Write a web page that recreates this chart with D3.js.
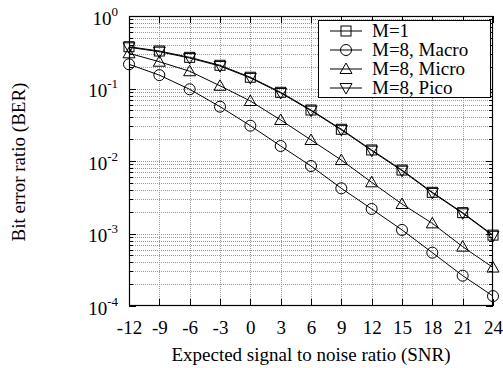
<!DOCTYPE html>
<html><head><meta charset="utf-8">
<script src="https://cdn.jsdelivr.net/npm/d3@7"></script>
<style>body{margin:0;background:#fff}svg{display:block;font-family:"Liberation Serif","Times New Roman",serif}</style>
</head><body><svg id="c" width="503" height="368"></svg>
<script>
const snr = [-12,-9,-6,-3,0,3,6,9,12,15,18,21,24];
const berM1    = [0.377,0.329,0.269,0.209,0.143,0.0886,0.0505,0.0274,0.0142,0.0075,0.0037,0.00194,0.00095];
const berMacro = [0.216,0.153,0.0975,0.0561,0.0307,0.0161,0.00853,0.0042,0.00218,0.00112,0.000544,0.000262,0.000137];
const berMicro = [0.306,0.234,0.173,0.109,0.0672,0.0368,0.0195,0.0103,0.00508,0.00255,0.00138,0.000658,0.000339];
const berPico  = [0.37,0.322,0.263,0.204,0.14,0.0868,0.0495,0.0269,0.0139,0.00735,0.00363,0.0019,0.00093];
const seriesNames = ["M=1","M=8, Macro","M=8, Micro","M=8, Pico"];
const seriesMarkers = ["square","circle","triangle","triangleDown"];
const xTicks = [-12,-9,-6,-3,0,3,6,9,12,15,18,21,24];
const yExponents = [0,-1,-2,-3,-4];

const series = [berM1, berMacro, berMicro, berPico].map((v,i)=>({name:seriesNames[i], marker:seriesMarkers[i], values:v}));

const svg = d3.select("#c");
const L=129, R=493, T=16, B=306;
const x = d3.scaleLinear().domain([-12,24]).range([L,R]);
const y = d3.scaleLog().domain([1e-4,1]).range([B,T]);

// grid
const g = svg.append("g");
const minorY = [];
for (let e=-4;e<0;e++) for (let m=1;m<10;m++) minorY.push(m*Math.pow(10,e));
minorY.push(1);
g.selectAll("line.gy").data(minorY.filter(v=>v>1e-4 && v<1)).join("line")
 .attr("x1",L).attr("x2",R).attr("y1",d=>Math.round(y(d))+0.5).attr("y2",d=>Math.round(y(d))+0.5)
 .attr("stroke","#999").attr("stroke-width",1).attr("stroke-dasharray","1,1");
g.selectAll("line.gx").data(xTicks.slice(1,-1)).join("line")
 .attr("y1",T).attr("y2",B).attr("x1",d=>Math.round(x(d))+0.5).attr("x2",d=>Math.round(x(d))+0.5)
 .attr("stroke","#999").attr("stroke-width",1).attr("stroke-dasharray","1,1");

// ticks inward
const tk = svg.append("g").attr("stroke","#000").attr("stroke-width",1);
minorY.forEach(v=>{
  const yy=Math.round(y(v))+0.5; const major = Math.abs(Math.log10(v)%1)<1e-9;
  const len = major?7:4;
  tk.append("line").attr("x1",L).attr("x2",L+len).attr("y1",yy).attr("y2",yy);
  tk.append("line").attr("x1",R).attr("x2",R-len).attr("y1",yy).attr("y2",yy);
});
xTicks.forEach(v=>{
  const xx=Math.round(x(v))+0.5;
  tk.append("line").attr("x1",xx).attr("x2",xx).attr("y1",B).attr("y2",B-7);
  tk.append("line").attr("x1",xx).attr("x2",xx).attr("y1",T).attr("y2",T+7);
});

// x tick labels via d3 axis
const xAxis = d3.axisBottom(x).tickValues(xTicks).tickSize(0).tickPadding(0).tickFormat(d=>String(d));
const xa = svg.append("g").attr("transform",`translate(0,${B})`).call(xAxis);
xa.select(".domain").remove();
xa.selectAll("text").attr("font-size",19).attr("font-family","Liberation Serif").attr("fill","#000").attr("dy",null).attr("y",28);

// y labels
const yl = svg.append("g");
yExponents.forEach(e=>{
  const t = yl.append("text").attr("x",118).attr("y",y(Math.pow(10,e))+8.5).attr("text-anchor","end").attr("font-size",19);
  t.append("tspan").text("10");
  t.append("tspan").attr("font-size",13).attr("dy",-9).text(String(e));
});

// lines
const line = d3.line().x((d,i)=>x(snr[i])).y(d=>y(d));
const plot = svg.append("g");
series.forEach(s=>{
  plot.append("path").attr("d",line(s.values)).attr("fill","none").attr("stroke","#000").attr("stroke-width",1);
});
function drawMarker(sel, type, cx, cy){
  if(type==="square") sel.append("rect").attr("x",cx-5).attr("y",cy-5).attr("width",10).attr("height",10);
  else if(type==="circle") sel.append("circle").attr("cx",cx).attr("cy",cy).attr("r",5.5);
  else if(type==="triangle") sel.append("path").attr("d",`M${cx},${cy-6}L${cx+6},${cy+4.5}L${cx-6},${cy+4.5}Z`);
  else sel.append("path").attr("d",`M${cx},${cy+6}L${cx+6},${cy-4.5}L${cx-6},${cy-4.5}Z`);
}
series.forEach(s=>{
  const mg = plot.append("g").attr("fill","none").attr("stroke","#000").attr("stroke-width",1);
  s.values.forEach((v,i)=>drawMarker(mg,s.marker,x(snr[i]),y(v)));
});

// frame
svg.append("rect").attr("x",L+0.5).attr("y",T+0.5).attr("width",R-L-1).attr("height",B-T-1)
 .attr("fill","none").attr("stroke","#000").attr("stroke-width",1.2);

// legend
const lg = svg.append("g");
lg.append("rect").attr("x",318.5).attr("y",20.5).attr("width",172).attr("height",77).attr("fill","#fff").attr("stroke","#000").attr("stroke-width",1);
series.forEach((s,i)=>{
  const yy = 31 + i*19;
  lg.append("line").attr("x1",330).attr("x2",362).attr("y1",yy).attr("y2",yy).attr("stroke","#000");
  const mg = lg.append("g").attr("fill","none").attr("stroke","#000");
  drawMarker(mg,s.marker,346,yy);
  lg.append("text").attr("x",372).attr("y",yy+6).attr("font-size",19).text(s.name);
});

// titles
svg.append("text").attr("x",311).attr("y",361).attr("text-anchor","middle").attr("font-size",19).text("Expected signal to noise ratio (SNR)");
svg.append("text").attr("transform","translate(25,162) rotate(-90)").attr("text-anchor","middle").attr("font-size",19).text("Bit error ratio (BER)");
</script></body></html>
